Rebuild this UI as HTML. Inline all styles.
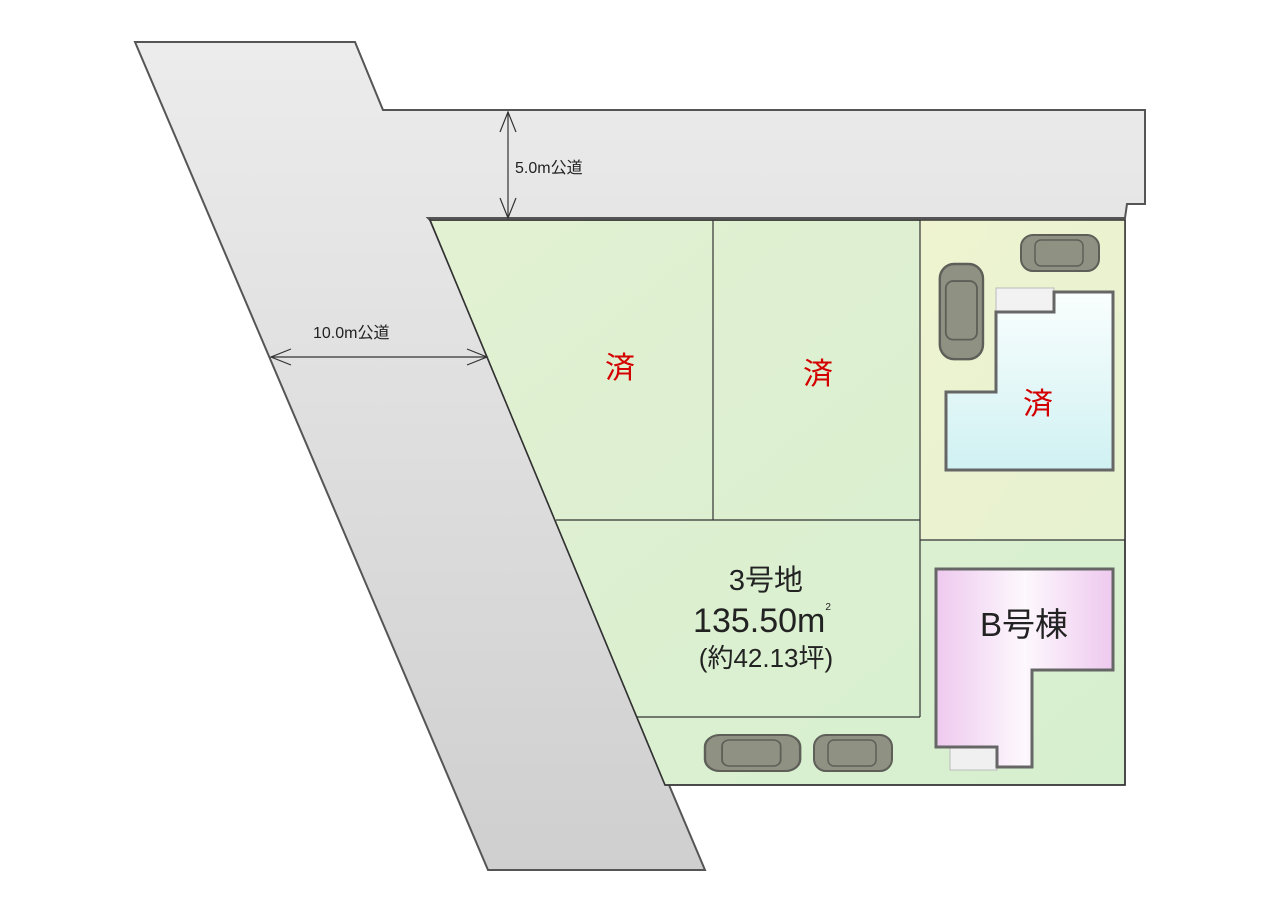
<!DOCTYPE html><html><head><meta charset="utf-8"><style>body{margin:0;background:#fff}svg{display:block}text{font-family:"Liberation Sans","Noto Sans CJK JP",sans-serif}</style></head><body>
<svg width="1280" height="914" viewBox="0 0 1280 914" xmlns="http://www.w3.org/2000/svg">
<defs>
<linearGradient id="rd" x1="0" y1="0" x2="0" y2="1"><stop offset="0" stop-color="#ececec"/><stop offset="1" stop-color="#cfcfcf"/></linearGradient>
<linearGradient id="gr" x1="0" y1="0" x2="1" y2="1"><stop offset="0" stop-color="#e2f1d2"/><stop offset="1" stop-color="#d6efcf"/></linearGradient>
<linearGradient id="yl" x1="0" y1="0" x2="1" y2="1"><stop offset="0" stop-color="#eff3d0"/><stop offset="1" stop-color="#e6f2d0"/></linearGradient>
<linearGradient id="cy" x1="0" y1="0" x2="0" y2="1"><stop offset="0" stop-color="#fafefe"/><stop offset="1" stop-color="#d0f1f2"/></linearGradient>
<linearGradient id="pk" x1="0" y1="0" x2="1" y2="0"><stop offset="0" stop-color="#eec9ef"/><stop offset="0.5" stop-color="#fdf8fd"/><stop offset="1" stop-color="#eec9ef"/></linearGradient>
<g id="car"><rect x="0" y="0" width="78" height="36" rx="12" fill="#8f9283" stroke="#5d5f58" stroke-width="2"/><rect x="14" y="5" width="48" height="26" rx="6" fill="none" stroke="#5d5f58" stroke-width="1.5"/></g>
</defs>
<polygon points="135,42 355,42 383,110 1145,110 1145,204 1127,204 1125,218 428,218 430,220 705,870 488,870" fill="url(#rd)" stroke="#555" stroke-width="2"/>
<polygon points="430,220 1125,220 1125,785 665,785" fill="url(#gr)" stroke="#333" stroke-width="1.5"/>
<rect x="920" y="220" width="205" height="320" fill="url(#yl)"/>
<polygon points="430,220 1125,220 1125,785 665,785" fill="none" stroke="#333" stroke-width="1.5"/>
<g stroke="#333" stroke-width="1.2" fill="none">
<line x1="713" y1="220" x2="713" y2="520"/><line x1="556" y1="520" x2="920" y2="520"/><line x1="920" y1="220" x2="920" y2="717"/><line x1="637" y1="717" x2="920" y2="717"/><line x1="920" y1="540" x2="1125" y2="540"/>
<line x1="508" y1="112" x2="508" y2="218"/><polyline points="500,132 508,112 516,132" /><polyline points="500,198 508,218 516,198"/>
<line x1="271" y1="357" x2="487" y2="357"/><polyline points="291,349 271,357 291,365"/><polyline points="467,349 487,357 467,365"/>
</g>
<rect x="996" y="288" width="58" height="24" fill="#f2f2f2" stroke="#bbb"/>
<polygon points="946,392 996,392 996,312 1054,312 1054,292 1113,292 1113,470 946,470" fill="url(#cy)" stroke="#666" stroke-width="3"/>
<rect x="950" y="745" width="47" height="25" fill="#f0f0f0" stroke="#bbb"/>
<polygon points="936,569 1113,569 1113,670 1032,670 1032,767 997,767 997,747 936,747" fill="url(#pk)" stroke="#666" stroke-width="3"/>
<use href="#car" transform="translate(1021,235)"/>
<use href="#car" transform="translate(983,264) rotate(90) scale(1.22,1.2)"/>
<use href="#car" transform="translate(705,735) scale(1.22,1)"/>
<use href="#car" transform="translate(814,735)"/>
<text x="515" y="173" font-size="16" fill="#222">5.0m公道</text>
<text x="313" y="338" font-size="16" fill="#222">10.0m公道</text>
<g fill="#d40000" font-size="30" text-anchor="middle"><text x="620" y="378">済</text><text x="818" y="384">済</text><text x="1038" y="414">済</text></g>
<g fill="#222" text-anchor="middle"><text x="766" y="590" font-size="29">3号地</text><text x="762" y="632" font-size="34">135.50m<tspan font-size="10" dy="-22">2</tspan></text><text x="766" y="667" font-size="26">(約42.13坪)</text>
<text x="1024" y="636" font-size="33">B号棟</text></g>
</svg></body></html>
